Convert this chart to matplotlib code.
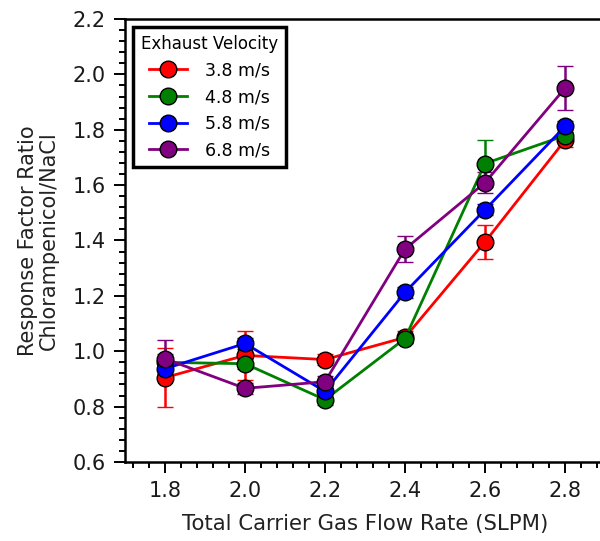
import matplotlib
matplotlib.use("Agg")
import matplotlib.pyplot as plt
from matplotlib.ticker import MultipleLocator, FormatStrFormatter

flow = [1.8, 2.0, 2.2, 2.4, 2.6, 2.8]
labels = ["3.8 m/s", "4.8 m/s", "5.8 m/s", "6.8 m/s"]
colors = ["red", "green", "blue", "purple"]

r38 = [0.905, 0.985, 0.970, 1.050, 1.395, 1.762]
r48 = [0.960, 0.955, 0.825, 1.046, 1.678, 1.779]
r58 = [0.937, 1.028, 0.855, 1.213, 1.511, 1.812]
r68 = [0.973, 0.866, 0.890, 1.369, 1.609, 1.950]

e38 = [0.107, 0.088, 0.020, 0.022, 0.062, 0.025]
e48 = [0.030, 0.020, 0.020, 0.015, 0.085, 0.020]
e58 = [0.020, 0.020, 0.020, 0.020, 0.020, 0.020]
e68 = [0.066, 0.020, 0.022, 0.047, 0.037, 0.080]

series = [r38, r48, r58, r68]
errors = [e38, e48, e58, e68]

W, H = 600, 541
fig = plt.figure(figsize=(W / 100, H / 100), dpi=100)
left, right, top, bottom = 125, 605, 19, 462
ax = fig.add_axes([left / W, 1 - bottom / H, (right - left) / W, (bottom - top) / H])

handles = []
for y, e, c, lab in zip(series, errors, colors, labels):
    cont = ax.errorbar(flow, y, yerr=e, color=c, lw=2.0, marker="o", ms=12,
                       mfc=c, mec="black", mew=1.0, capsize=6, capthick=1.8,
                       elinewidth=1.8, label=lab)
    handles.append(cont.lines[0])

ax.set_xlim(1.7, 2.9)
ax.set_ylim(0.6, 2.2)
ax.xaxis.set_major_locator(MultipleLocator(0.2))
ax.xaxis.set_minor_locator(MultipleLocator(0.04))
ax.yaxis.set_major_locator(MultipleLocator(0.2))
ax.yaxis.set_minor_locator(MultipleLocator(0.04))
ax.tick_params(which="major", direction="out", length=8, width=1.4, labelsize=15,
               pad=6, top=False, right=False, labelcolor="#1a1a1a")
ax.tick_params(which="minor", direction="out", length=4.5, width=1.4, top=False, right=False)
ax.xaxis.set_major_formatter(FormatStrFormatter("%.1f"))
ax.yaxis.set_major_formatter(FormatStrFormatter("%.1f"))
for s in ax.spines.values():
    s.set_linewidth(1.8)

ax.set_xlabel("Total Carrier Gas Flow Rate (SLPM)", fontsize=15.3, labelpad=9, color="#222222")
ax.set_ylabel("Response Factor Ratio\nChlorampenicol/NaCl", fontsize=15, labelpad=10,
              color="#222222", linespacing=1.0)

leg = ax.legend(handles=handles, labels=labels, title="Exhaust Velocity", loc="upper left",
                bbox_to_anchor=(0.017, 0.982), borderaxespad=0, prop={"size": 12.5},
                title_fontsize=12, frameon=True, fancybox=False, edgecolor="black",
                handlelength=2.2, borderpad=0.45, labelspacing=0.5, handletextpad=1.0,
                framealpha=1)
leg.get_frame().set_linewidth(2.5)

fig.savefig("out.png", dpi=100)
